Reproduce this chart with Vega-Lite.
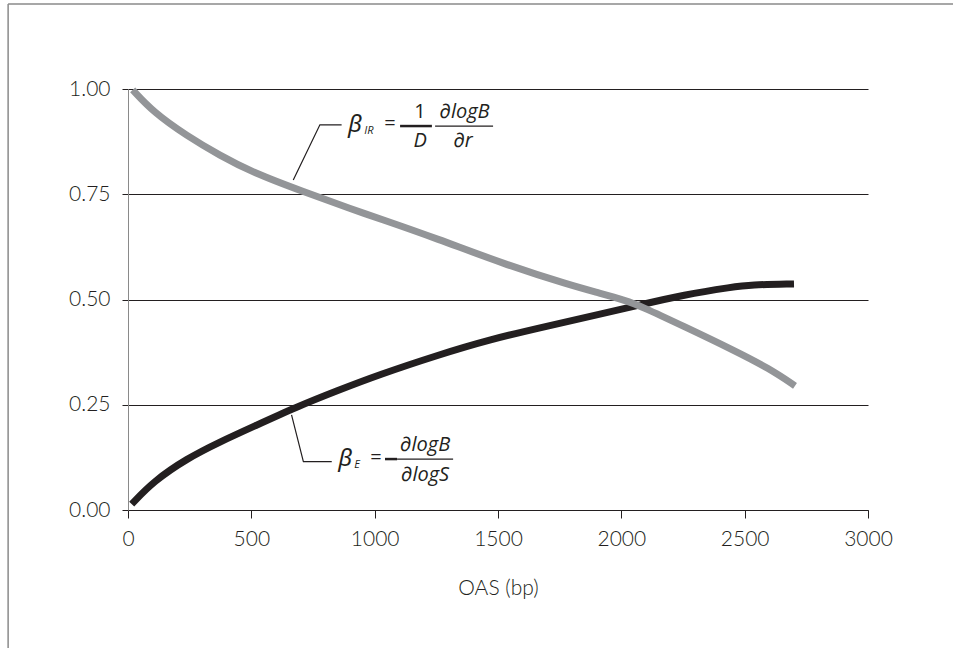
{
  "$schema": "https://vega.github.io/schema/vega-lite/v6.json",
  "width": 740,
  "height": 421,
  "autosize": "none",
  "padding": {"left": 128, "top": 89, "right": 85, "bottom": 138},
  "background": "white",
  "config": {
    "view": {"stroke": null},
    "font": "Lato",
    "axis": {"labelFont": "Lato", "titleFont": "Lato", "labelFontWeight": 300, "titleFontWeight": 300}
  },
  "datasets": {
    "curves": [
      {"series": "IR", "oas": 19, "val": 0.998},
      {"series": "IR", "oas": 103, "val": 0.945},
      {"series": "IR", "oas": 238, "val": 0.889},
      {"series": "IR", "oas": 373, "val": 0.842},
      {"series": "IR", "oas": 508, "val": 0.801},
      {"series": "IR", "oas": 711, "val": 0.756},
      {"series": "IR", "oas": 914, "val": 0.713},
      {"series": "IR", "oas": 1021, "val": 0.692},
      {"series": "IR", "oas": 1251, "val": 0.645},
      {"series": "IR", "oas": 1521, "val": 0.585},
      {"series": "IR", "oas": 1792, "val": 0.534},
      {"series": "IR", "oas": 1913, "val": 0.515},
      {"series": "IR", "oas": 2021, "val": 0.497},
      {"series": "IR", "oas": 2075, "val": 0.485},
      {"series": "IR", "oas": 2251, "val": 0.437},
      {"series": "IR", "oas": 2454, "val": 0.380},
      {"series": "IR", "oas": 2600, "val": 0.336},
      {"series": "IR", "oas": 2704, "val": 0.295},
      {"series": "E", "oas": 15, "val": 0.014},
      {"series": "E", "oas": 103, "val": 0.068},
      {"series": "E", "oas": 238, "val": 0.122},
      {"series": "E", "oas": 373, "val": 0.162},
      {"series": "E", "oas": 508, "val": 0.198},
      {"series": "E", "oas": 684, "val": 0.245},
      {"series": "E", "oas": 846, "val": 0.283},
      {"series": "E", "oas": 1021, "val": 0.322},
      {"series": "E", "oas": 1251, "val": 0.367},
      {"series": "E", "oas": 1467, "val": 0.405},
      {"series": "E", "oas": 1700, "val": 0.437},
      {"series": "E", "oas": 1913, "val": 0.465},
      {"series": "E", "oas": 2075, "val": 0.487},
      {"series": "E", "oas": 2251, "val": 0.511},
      {"series": "E", "oas": 2454, "val": 0.530},
      {"series": "E", "oas": 2521, "val": 0.535},
      {"series": "E", "oas": 2700, "val": 0.537}
    ],
    "frame": [
      {"oas": -486, "oas2": 3345, "val": 1.202, "val2": 1.202},
      {"oas": -486, "oas2": -486, "val": 1.202, "val2": -0.33}
    ],
    "leaders": [
      {"id": "IR", "step": 1, "oas": 670, "val": 0.784},
      {"id": "IR", "step": 2, "oas": 778, "val": 0.915},
      {"id": "IR", "step": 3, "oas": 866, "val": 0.915},
      {"id": "E", "step": 1, "oas": 663, "val": 0.226},
      {"id": "E", "step": 2, "oas": 711, "val": 0.115},
      {"id": "E", "step": 3, "oas": 826, "val": 0.115}
    ],
    "minus": [
      {"oas": 1103, "oas2": 1232, "val": 0.912},
      {"oas": 1042, "oas2": 1091, "val": 0.121}
    ],
    "bars": [
      {"oas": 1245, "oas2": 1480, "val": 0.912},
      {"oas": 1091, "oas2": 1318, "val": 0.121}
    ],
    "greek": [
      {"t": "β", "oas": 920, "val": 0.915},
      {"t": "β", "oas": 880, "val": 0.121}
    ],
    "subs": [
      {"t": "IR", "oas": 977, "val": 0.901},
      {"t": "E", "oas": 929, "val": 0.106}
    ],
    "upright": [
      {"t": "=", "oas": 1062, "val": 0.917},
      {"t": "1", "oas": 1184, "val": 0.945},
      {"t": "=", "oas": 1005, "val": 0.124}
    ],
    "italic": [
      {"t": "D", "oas": 1184, "val": 0.877},
      {"t": "∂logB", "oas": 1364, "val": 0.945},
      {"t": "∂r", "oas": 1358, "val": 0.877},
      {"t": "∂logB", "oas": 1204, "val": 0.154},
      {"t": "∂logS", "oas": 1204, "val": 0.083}
    ]
  },
  "encoding": {
    "x": {
      "field": "oas",
      "type": "quantitative",
      "scale": {"domain": [0, 3000], "nice": false, "zero": false},
      "axis": {
        "values": [0, 500, 1000, 1500, 2000, 2500, 3000],
        "format": "d",
        "grid": false,
        "domainColor": "#231f20",
        "domainWidth": 1,
        "tickColor": "#231f20",
        "tickSize": 8,
        "labelFontSize": 21,
        "labelColor": "#231f20",
        "labelPadding": 10,
        "labelFlush": false,
        "labelOverlap": false,
        "title": "OAS (bp)",
        "titleFontSize": 21,
        "titleColor": "#231f20",
        "titlePadding": 28
      }
    },
    "y": {
      "field": "val",
      "type": "quantitative",
      "scale": {"domain": [0, 1], "nice": false, "zero": false},
      "axis": {
        "values": [0, 0.25, 0.5, 0.75, 1],
        "format": ".2f",
        "grid": true,
        "gridColor": "#231f20",
        "gridOpacity": 1,
        "gridWidth": 1,
        "domainColor": "#8a8a8a",
        "tickColor": "#231f20",
        "tickSize": 6,
        "labelFontSize": 21,
        "labelColor": "#231f20",
        "labelPadding": 12,
        "title": null
      }
    }
  },
  "layer": [
    {
      "data": {"name": "frame"},
      "mark": {"type": "rule", "color": "#8a8a8a", "strokeWidth": 1.5, "clip": false},
      "encoding": {"x2": {"field": "oas2"}, "y2": {"field": "val2"}}
    },
    {
      "data": {"name": "curves"},
      "transform": [{"filter": "datum.series === 'E'"}],
      "mark": {"type": "line", "color": "#231f20", "strokeWidth": 7, "strokeCap": "butt", "interpolate": "basis"},
      "encoding": {}
    },
    {
      "data": {"name": "curves"},
      "transform": [{"filter": "datum.series === 'IR'"}],
      "mark": {"type": "line", "color": "#939598", "strokeWidth": 7, "strokeCap": "butt", "interpolate": "basis"},
      "encoding": {}
    },
    {
      "data": {"name": "leaders"},
      "mark": {"type": "line", "color": "#231f20", "strokeWidth": 1.2},
      "encoding": {"detail": {"field": "id"}, "order": {"field": "step", "type": "quantitative"}}
    },
    {
      "data": {"name": "minus"},
      "mark": {"type": "rule", "color": "#231f20", "strokeWidth": 2.5},
      "encoding": {"x2": {"field": "oas2"}}
    },
    {
      "data": {"name": "bars"},
      "mark": {"type": "rule", "color": "#231f20", "strokeWidth": 1.3},
      "encoding": {"x2": {"field": "oas2"}}
    },
    {
      "data": {"name": "greek"},
      "mark": {"type": "text", "font": "Noto Sans", "fontStyle": "italic", "fontWeight": "normal", "fontSize": 24, "color": "#231f20", "align": "center", "baseline": "middle"},
      "encoding": {"text": {"field": "t"}}
    },
    {
      "data": {"name": "subs"},
      "mark": {"type": "text", "font": "Open Sans", "fontStyle": "italic", "fontWeight": "normal", "fontSize": 11, "color": "#231f20", "align": "center", "baseline": "middle"},
      "encoding": {"text": {"field": "t"}}
    },
    {
      "data": {"name": "upright"},
      "mark": {"type": "text", "font": "Open Sans", "fontWeight": "normal", "fontSize": 20, "color": "#231f20", "align": "center", "baseline": "middle"},
      "encoding": {"text": {"field": "t"}}
    },
    {
      "data": {"name": "italic"},
      "mark": {"type": "text", "font": "Open Sans, DejaVu Sans", "fontWeight": "normal", "fontStyle": "italic", "fontSize": 20, "color": "#231f20", "align": "center", "baseline": "middle"},
      "encoding": {"text": {"field": "t"}}
    }
  ]
}
